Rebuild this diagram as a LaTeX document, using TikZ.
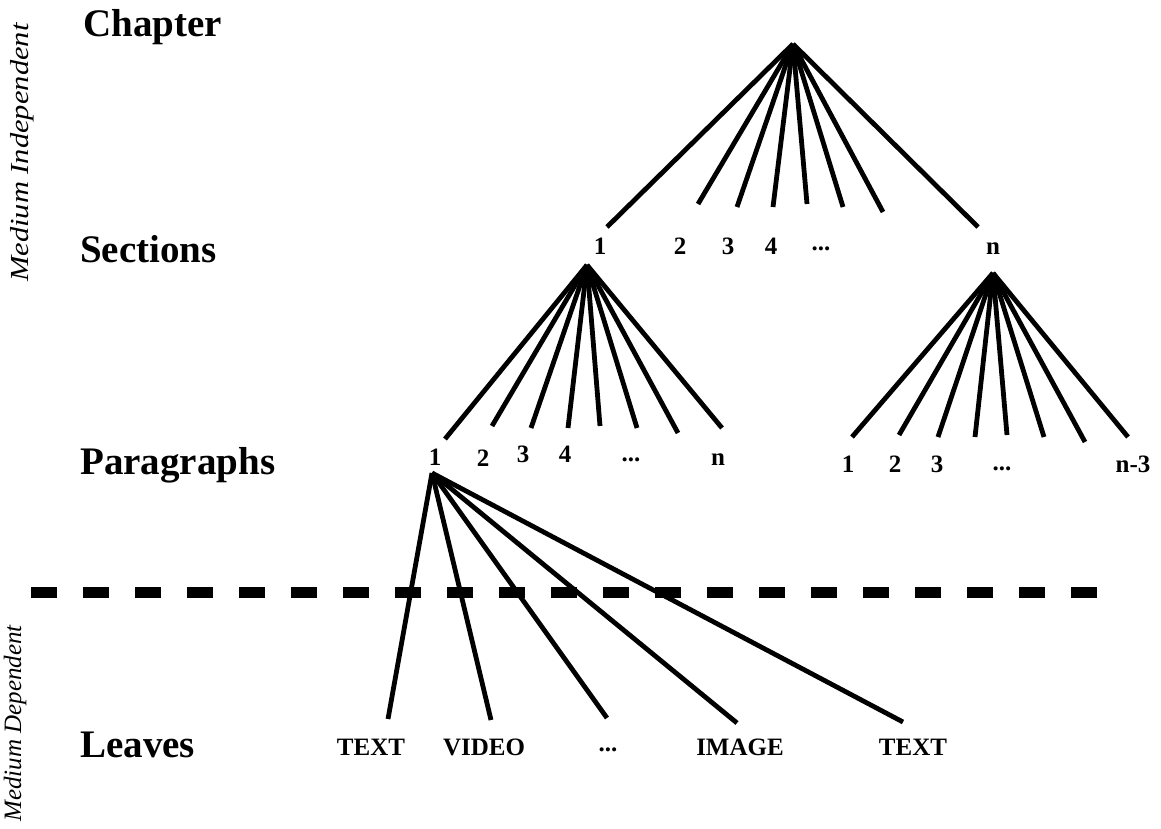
\documentclass[tikz,border=0pt]{standalone}
\usepackage{fontspec}
\setmainfont{Liberation Serif}
\newcommand{\mydots}{\raisebox{0.14em}{...}}
\begin{document}
\begin{tikzpicture}[x=1pt,y=-1pt,
  lev/.style={anchor=base west, font=\bfseries\fontsize{39}{39}\selectfont, inner sep=0pt},
  num/.style={anchor=base, font=\bfseries\fontsize{25}{25}\selectfont, inner sep=0pt},
  edge/.style={line width=4.8pt},
  side/.style={rotate=90, anchor=base west, font=\itshape\fontsize{25}{25}\selectfont, inner sep=0pt},
  divider/.style={line width=11pt, dash pattern=on 26pt off 26pt}
]
\useasboundingbox (0,0) rectangle (1161,828);

% level labels
\node[lev] (chap) at (83,36) {Chapter};
\node[lev] (sect) at (80,262) {Sections};
\node[lev] (para) at (80,474) {Paragraphs};
\node[lev] (leav) at (80,757) {Leaves};

% side labels
\node[side] (indep) at (28,282) {\scalebox{1.22}[1.04]{Medium Independent}};
\node[side] (dep) at (21,822) {Medium Dependent};

% divider
\coordinate (dl) at (31,592);
\coordinate (dr) at (1100,592);
\draw[divider] (dl) -- (dr);

% chapter fan
\coordinate (c0) at (793,44);
\foreach \n/\x/\y in {1/607/227, 2/698/204, 3/737/207, 4/773/207, 5/807/204, 6/843/207, 7/883/212, 8/978/227}
  {\coordinate (ce\n) at (\x,\y); \draw[edge] (c0) -- (ce\n);}
\node[num] (s1) at (600,254) {1};
\node[num] (s2) at (680,254) {2};
\node[num] (s3) at (728,254) {3};
\node[num] (s4) at (771,254) {4};
\node[num] (sd) at (821,254) {\mydots};
\node[num] (sn) at (993,254) {n};

% section 1 fan
\coordinate (a1) at (587,265);
\foreach \n/\x/\y in {1/445/439, 2/492/426, 3/531/428, 4/568/428, 5/600/426, 6/637/428, 7/678/433, 8/722/428}
  {\coordinate (ae\n) at (\x,\y); \draw[edge] (a1) -- (ae\n);}
\node[num] (p1) at (435,465) {1};
\node[num] (p2) at (483,466) {2};
\node[num] (p3) at (523,462) {3};
\node[num] (p4) at (565,462) {4};
\node[num] (pd) at (631,465) {\mydots};
\node[num] (pn) at (718,465) {n};

% section n fan
\coordinate (an) at (993,273);
\foreach \n/\x/\y in {1/852/437, 2/899/435, 3/938/437, 4/975/437, 5/1007/435, 6/1044/437, 7/1085/442, 8/1128/437}
  {\coordinate (be\n) at (\x,\y); \draw[edge] (an) -- (be\n);}
\node[num] (q1) at (848,472) {1};
\node[num] (q2) at (895,472) {2};
\node[num] (q3) at (937,472) {3};
\node[num] (qd) at (1002,474) {\mydots};
\node[num] (qn) at (1133,472) {n-3};

% paragraph 1 fan
\coordinate (pp) at (432,473);
\foreach \n/\x/\y in {1/388/719, 2/491/720, 3/607/718, 4/737/723, 5/903/722}
  {\coordinate (le\n) at (\x,\y); \draw[edge] (pp) -- (le\n);}
\node[num] (l1) at (371,755) {TEXT};
\node[num] (l2) at (484,755) {VIDEO};
\node[num] (l3) at (608,755) {\mydots};
\node[num] (l4) at (740,755) {IMAGE};
\node[num] (l5) at (913,755) {TEXT};
\end{tikzpicture}
\end{document}
